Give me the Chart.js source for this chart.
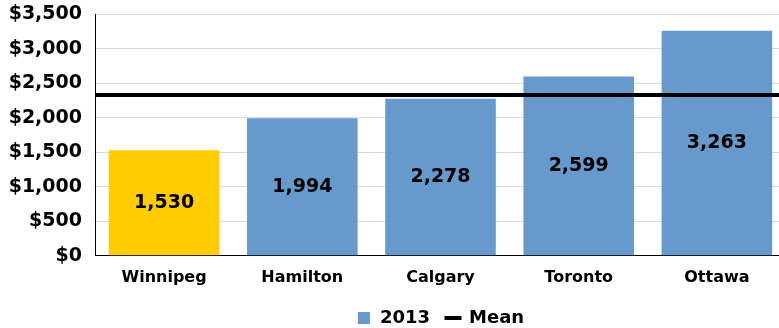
<!DOCTYPE html>
<html><head><meta charset="utf-8">
<script src="https://cdn.jsdelivr.net/npm/chart.js@4/dist/chart.umd.min.js"></script>
<style>
html,body{margin:0;padding:0;background:#fff;overflow:hidden;width:779px;height:328px;}
#wrap{position:absolute;left:0;top:-10px;width:786px;height:353px;}
</style></head>
<body><div id="wrap"><canvas id="c"></canvas></div>
<script>
const categories = ["Winnipeg","Hamilton","Calgary","Toronto","Ottawa"];
const values2013 = [1530,1994,2278,2599,3263];
const barColors = ["#FFCC00","#6699CC","#6699CC","#6699CC","#6699CC"];
const meanValue = [2333];
const yTicks = [0,500,1000,1500,2000,2500,3000,3500];
const FONT = "'DejaVu Sans', Verdana, sans-serif";

const dataLabels = {
  id:'dataLabels',
  afterDatasetsDraw(chart){
    const ctx = chart.ctx;
    const meta = chart.getDatasetMeta(1);
    ctx.save();
    ctx.font = "bold 19px " + FONT;
    ctx.fillStyle = "#000";
    ctx.textAlign = "center";
    ctx.textBaseline = "middle";
    meta.data.forEach((bar,i)=>{
      const y = (bar.y + bar.base)/2;
      ctx.fillText(values2013[i].toLocaleString('en-US'), bar.x, y);
    });
    ctx.restore();
  }
};

const legendPlace = {
  id:'legendPlace',
  afterLayout(chart){
    const lg = chart.legend, ca = chart.chartArea;
    if(!lg) return;
    lg.left = ca.left; lg.right = ca.right;
    lg.top -= 6; lg.bottom -= 6;
  }
};

new Chart(document.getElementById('c'),{
  type:'bar',
  data:{
    labels:categories,
    datasets:[
      {type:'line',label:'Mean',xAxisID:'x2',data:[{x:0,y:meanValue[0]},{x:1,y:meanValue[0]}],
       borderColor:'#000',borderWidth:4,pointRadius:0,order:0},
      {label:'2013',data:values2013,backgroundColor:barColors,grouped:false,barPercentage:0.8,categoryPercentage:1.0,order:1}
    ]
  },
  options:{
    responsive:true,maintainAspectRatio:false,animation:false,
    layout:{padding:{top:0,right:0,left:0,bottom:0}},
    scales:{
      x:{grid:{display:false,drawTicks:false},border:{display:true,color:'#000',width:1},
         ticks:{color:'#000',font:{family:FONT,size:16,weight:'bold'},padding:12}},
      x2:{type:'linear',min:0,max:1,display:false,offset:false},
      y:{min:0,max:3500,
         afterFit(s){s.width=95;},
         afterBuildTicks(s){s.ticks=yTicks.map(v=>({value:v}));},
         grid:{color:'#D9D9D9',lineWidth:1,drawTicks:false},
         border:{display:true,color:'#000',width:1},
         ticks:{color:'#000',padding:13,font:{family:FONT,size:19,weight:'bold'},
           callback:v=>'$'+Number(v).toLocaleString('en-US')}}
    },
    plugins:{
      legend:{position:'bottom',
        labels:{color:'#000',font:{family:FONT,size:18,weight:'bold'},usePointStyle:true,boxWidth:14,boxHeight:12,padding:16,
          generateLabels(chart){
            return [
              {text:'2013',fillStyle:'#6699CC',strokeStyle:'#6699CC',lineWidth:0,pointStyle:'rect',datasetIndex:1,fontColor:'#000'},
              {text:'Mean',fillStyle:'#000',strokeStyle:'#000',lineWidth:4,pointStyle:'line',datasetIndex:0,fontColor:'#000'}
            ];
          }}},
      tooltip:{enabled:false}
    }
  },
  plugins:[dataLabels, legendPlace]
});
</script></body></html>
